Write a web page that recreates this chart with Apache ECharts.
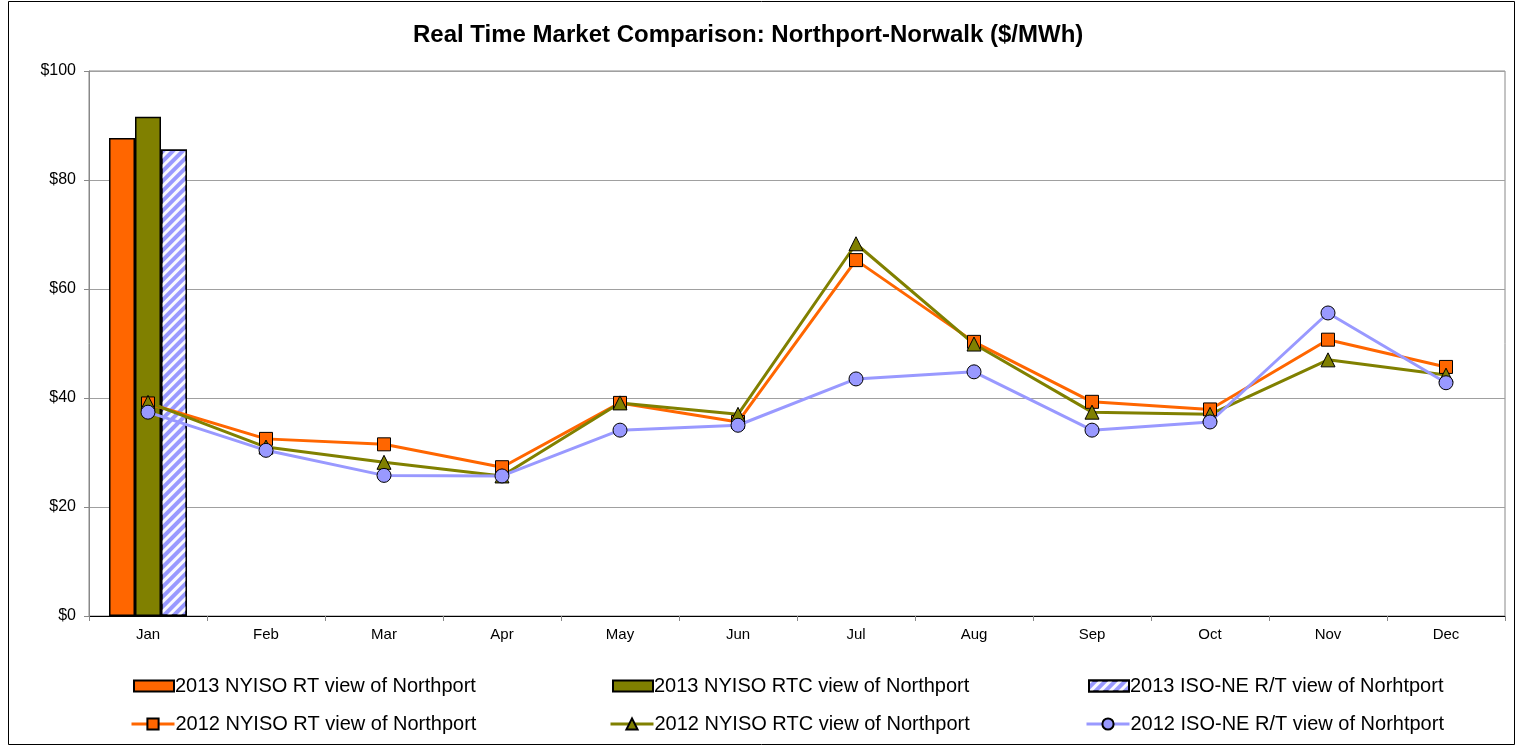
<!DOCTYPE html>
<html><head><meta charset="utf-8">
<script src="https://cdn.jsdelivr.net/npm/echarts@6/dist/echarts.min.js"></script>
<style>html,body{margin:0;padding:0;background:#fff;}#c{width:1522px;height:746px;}</style>
</head><body><div id="c"></div>
<script>
const months = ['Jan','Feb','Mar','Apr','May','Jun','Jul','Aug','Sep','Oct','Nov','Dec'];
const yTicks = [0,20,40,60,80,100];
const rt2013  = [87.7, null, null, null, null, null, null, null, null, null, null, null];
const rtc2013 = [91.6, null, null, null, null, null, null, null, null, null, null, null];
const isone2013 = [85.6, null, null, null, null, null, null, null, null, null, null, null];
const rt2012  = [39.0, 32.5, 31.5, 27.3, 39.1, 35.6, 65.3, 50.3, 39.3, 37.9, 50.7, 45.7];
const rtc2012 = [39.2, 31.0, 28.2, 25.7, 39.1, 37.0, 68.3, 49.9, 37.4, 37.0, 47.0, 44.2];
const isone2012 = [37.4, 30.4, 25.8, 25.7, 34.1, 35.0, 43.5, 44.8, 34.1, 35.6, 55.6, 42.8];

const names = ['2013 NYISO RT view of Northport','2013 NYISO RTC view of Northport','2013 ISO-NE R/T view of Norhtport',
               '2012 NYISO RT view of Northport','2012 NYISO RTC view of Northport','2012 ISO-NE R/T view of Norhtport'];
const ORANGE='#FF6600', OLIVE='#808000', BLUE='#9999FF';
const font = 'Liberation Sans, Arial, sans-serif';

const legendPos = [[133,676],[612,676],[1088,676],[130,714],[609,714],[1085,714]];
const legends = names.map((n,i)=>{
  const lg = {
    data:[n], left:legendPos[i][0], top:legendPos[i][1], padding:0,
    itemWidth: i<3 ? 40 : 43, itemHeight: i<3 ? 11 : 14, itemGap:0,
    textStyle:{fontFamily:font, fontSize:20, color:'#000', padding:[0,0,0,-4]},
    lineStyle:{width:3},
    selectedMode:false
  };
  if (i<3) lg.icon = 'rect';
  return lg;
});

const chart = echarts.init(document.getElementById('c'), null, {renderer:'canvas'});
chart.setOption({
  animation:false,
  backgroundColor:'#fff',
  title:{text:'Real Time Market Comparison: Northport-Norwalk ($/MWh)', left:408, top:18,
    textStyle:{fontFamily:font, fontSize:24, fontWeight:'bold', color:'#000'}},
  graphic:[{type:'rect', shape:{x:8.5,y:1.5,width:1506,height:743}, style:{fill:'none', stroke:'#000', lineWidth:1}, silent:true}],
  legend: legends,
  grid:{left:89, right:17, top:71, bottom:130, show:true, borderColor:'#888', borderWidth:1, containLabel:false},
  xAxis:{type:'category', data:months, boundaryGap:true,
    axisLine:{lineStyle:{color:'#000', width:1}},
    axisTick:{show:true, alignWithLabel:false, length:5, lineStyle:{color:'#888'}},
    axisLabel:{fontFamily:font, fontSize:15, color:'#000', margin:11}},
  yAxis:{type:'value', min:yTicks[0], max:yTicks[yTicks.length-1], interval:20,
    axisLine:{show:true, lineStyle:{color:'#888'}},
    axisTick:{show:true, length:5, lineStyle:{color:'#888'}},
    axisLabel:{fontFamily:font, fontSize:16, color:'#000', formatter:v=>'$'+v, margin:13},
    splitLine:{show:true, lineStyle:{color:'#a0a0a0', width:1}}},
  series:[
    {name:names[0], type:'bar', data:rt2013, barWidth:26, barGap:'0%',
      itemStyle:{color:ORANGE, borderColor:'#000', borderWidth:1.5}},
    {name:names[1], type:'bar', data:rtc2013, barWidth:26, barGap:'0%',
      itemStyle:{color:OLIVE, borderColor:'#000', borderWidth:1.5}},
    {name:names[2], type:'bar', data:isone2013, barWidth:26, barGap:'0%',
      itemStyle:{color:BLUE, borderColor:'#000', borderWidth:1.5,
        decal:{symbol:'rect', symbolSize:1, color:'rgba(255,255,255,0.95)', dashArrayX:[1,0], dashArrayY:[3,4], rotation:-Math.PI/4}}},
    {name:names[3], type:'line', data:rt2012, symbol:'rect', symbolSize:13,
      lineStyle:{color:ORANGE, width:3}, itemStyle:{color:ORANGE, borderColor:'#000', borderWidth:1}},
    {name:names[4], type:'line', data:rtc2012, symbol:'triangle', symbolSize:14,
      lineStyle:{color:OLIVE, width:3}, itemStyle:{color:OLIVE, borderColor:'#000', borderWidth:1}},
    {name:names[5], type:'line', data:isone2012, symbol:'circle', symbolSize:14,
      lineStyle:{color:BLUE, width:3}, itemStyle:{color:BLUE, borderColor:'#000', borderWidth:1}}
  ]
});
</script></body></html>
